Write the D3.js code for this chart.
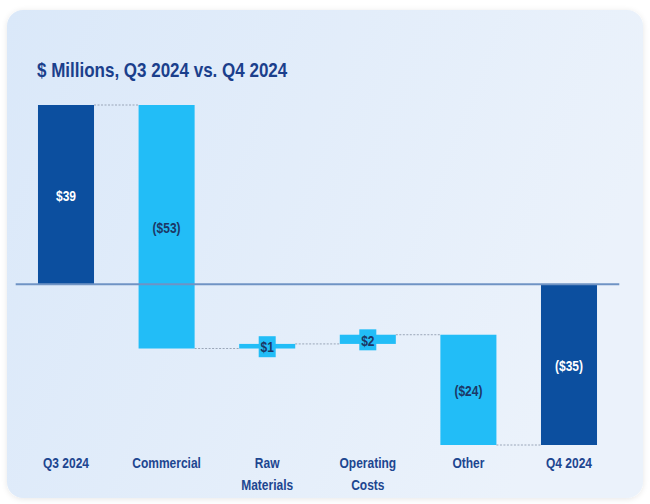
<!DOCTYPE html>
<html>
<head>
<meta charset="utf-8">
<script src="https://cdn.jsdelivr.net/npm/d3@7"></script>
<style>
  html, body { margin: 0; padding: 0; background: #ffffff; }
  svg { display: block; font-family: "Liberation Sans", Arial, sans-serif; }
</style>
</head>
<body>
<svg id="chart" width="650" height="504"></svg>
<script>
// Bridge from Q3 2024 to Q4 2024, $ millions
const categories = ["Q3 2024", "Commercial", "Raw Materials", "Operating Costs", "Other", "Q4 2024"];
const values = [39, -53, 1, 2, -24, -35];
const kinds = ["total", "delta", "delta", "delta", "delta", "total"];
const valueLabels = ["$39", "($53)", "$1", "$2", "($24)", "($35)"];

const svg = d3.select("#chart");

// horizontal squeeze that gives the text a condensed look
const NARROW = 0.8;

// card background
const defs = svg.append("defs");
const grad = defs.append("linearGradient").attr("id", "cardGrad")
  .attr("x1", "0").attr("y1", "0").attr("x2", "1").attr("y2", "0.3");
grad.append("stop").attr("offset", "0").attr("stop-color", "#dae8f9");
grad.append("stop").attr("offset", "1").attr("stop-color", "#ebf2fb");
const shadow = defs.append("filter").attr("id", "cardShadow")
  .attr("x", "-5%").attr("y", "-5%").attr("width", "110%").attr("height", "110%");
shadow.append("feGaussianBlur").attr("in", "SourceAlpha").attr("stdDeviation", 3);
shadow.append("feOffset").attr("dy", 1).attr("result", "b");
shadow.append("feComponentTransfer").append("feFuncA").attr("type", "linear").attr("slope", 0.1);
const merge = shadow.append("feMerge");
merge.append("feMergeNode");
merge.append("feMergeNode").attr("in", "SourceGraphic");

svg.append("rect")
  .attr("x", 7).attr("y", 10).attr("width", 636).attr("height", 488)
  .attr("rx", 16).attr("ry", 16)
  .attr("fill", "url(#cardGrad)")
  .attr("filter", "url(#cardShadow)");

// title
svg.append("text")
  .attr("transform", `translate(37,77) scale(0.85,1)`)
  .attr("fill", "#1b3f8c")
  .attr("font-size", 20)
  .attr("font-weight", "bold")
  .text("$ Millions, Q3 2024 vs. Q4 2024");

// waterfall geometry
const bars = [];
let running = 0;
values.forEach((v, i) => {
  if (kinds[i] === "total") {
    bars.push({ cat: categories[i], kind: "total", y0: 0, y1: v, label: valueLabels[i] });
    running = v;
  } else {
    bars.push({ cat: categories[i], kind: "delta", y0: running, y1: running + v, label: valueLabels[i] });
    running += v;
  }
});

const x = d3.scaleBand()
  .domain(categories)
  .range([15.7, 619.3])
  .paddingInner(0.443)
  .paddingOuter(0.2215);

const yMin = d3.min(bars, d => Math.min(d.y0, d.y1));
const yMax = d3.max(bars, d => Math.max(d.y0, d.y1));
const y = d3.scaleLinear().domain([yMin, yMax]).range([445, 105]);

const colorTotal = "#0c4f9f";
const colorDelta = "#22bdf7";

// connectors between consecutive bars
const g = svg.append("g");
for (let i = 0; i < bars.length - 1; i++) {
  const level = bars[i].y1;
  g.append("line")
    .attr("x1", x(bars[i].cat) + x.bandwidth())
    .attr("x2", x(bars[i + 1].cat))
    .attr("y1", y(level)).attr("y2", y(level))
    .attr("stroke", "#9aa6b8")
    .attr("stroke-width", 1)
    .attr("stroke-dasharray", "2,1.5");
}

// bars
g.selectAll("rect.bar")
  .data(bars)
  .join("rect")
  .attr("class", "bar")
  .attr("x", d => x(d.cat))
  .attr("width", x.bandwidth())
  .attr("y", d => y(Math.max(d.y0, d.y1)))
  .attr("height", d => Math.max(1, Math.abs(y(d.y0) - y(d.y1))))
  .attr("fill", d => d.kind === "total" ? colorTotal : colorDelta);

// zero line
svg.append("line")
  .attr("x1", x.range()[0]).attr("x2", x.range()[1])
  .attr("y1", y(0)).attr("y2", y(0))
  .attr("stroke", "#6f93c4")
  .attr("stroke-width", 2);

// value labels
const labels = svg.append("g")
  .attr("font-size", 15)
  .attr("font-weight", "bold")
  .attr("text-anchor", "middle");

bars.forEach(d => {
  const cx = x(d.cat) + x.bandwidth() / 2;
  const cy = (y(d.y0) + y(d.y1)) / 2 + 1;
  const small = Math.abs(y(d.y0) - y(d.y1)) < 20;
  if (small) {
    labels.append("rect")
      .attr("x", cx - 8.5).attr("y", cy - 11)
      .attr("width", 17).attr("height", 21)
      .attr("fill", colorDelta);
  }
  labels.append("text")
    .attr("transform", `translate(${cx},${cy}) scale(${NARROW},1)`)
    .attr("dy", "0.35em")
    .attr("fill", d.kind === "total" ? "#ffffff" : "#1c3766")
    .text(d.label);
});

// category axis
const axis = svg.append("g")
  .attr("transform", `translate(0,468)`)
  .call(d3.axisBottom(x).tickSize(0).tickPadding(0));
axis.select(".domain").remove();
axis.selectAll("text")
  .attr("font-family", "Liberation Sans, Arial, sans-serif")
  .attr("font-size", 15)
  .attr("font-weight", "bold")
  .attr("fill", "#1d4690")
  .attr("transform", `scale(${NARROW},1)`)
  .attr("y", 0)
  .attr("dy", null)
  .each(function(d) {
    const t = d3.select(this);
    const words = d.split(" ");
    t.text(null);
    const lines = (d === "Raw Materials" || d === "Operating Costs") ? words : [d];
    lines.forEach((w, k) => {
      t.append("tspan").attr("x", 0).attr("y", k * 22).text(w);
    });
  });
</script>
</body>
</html>
